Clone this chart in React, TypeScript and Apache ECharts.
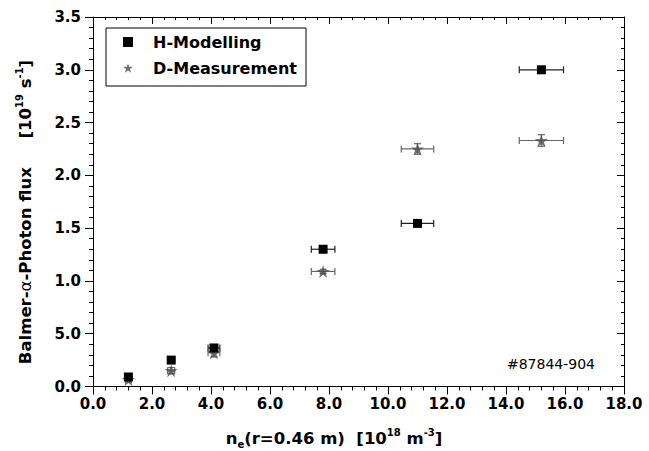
import React, { useEffect, useRef } from "react";
import * as echarts from "echarts";

// ---- data ----
const xValues = [1.2, 2.65, 4.1, 7.8, 11.0, 15.2];
const xErrors = [0.1, 0.12, 0.2, 0.4, 0.55, 0.75];
const hModelling = [0.09, 0.25, 0.365, 1.3, 1.545, 3.0];
const dMeasurement = [0.065, 0.15, 0.32, 1.09, 2.25, 2.33];
const dErrors = [0.02, 0.03, 0.04, 0.02, 0.05, 0.055];
const xTickLabels = ["0.0", "2.0", "4.0", "6.0", "8.0", "10.0", "12.0", "14.0", "16.0", "18.0"];
const yTickLabels = ["0.0", "5.0", "1.0", "1.5", "2.0", "2.5", "3.0", "3.5"];
const seriesNames = ["H-Modelling", "D-Measurement"];
const shotLabel = "#87844-904";

const FONT = "DejaVu Sans";
const STAR =
  "path://M50,0 L61.2,34.5 L97.6,34.5 L68.2,55.9 L79.4,90.5 L50,69.1 L20.6,90.5 L31.8,55.9 L2.4,34.5 L38.8,34.5 Z";

function errRender(color: string) {
  return (params: any, api: any) => {
    const x = api.value(0);
    const y = api.value(1);
    const xe = api.value(2);
    const ye = api.value(3);
    const c = api.coord([x, y]);
    const l = api.coord([x - xe, y]);
    const r = api.coord([x + xe, y]);
    const style = { stroke: color, lineWidth: 1.2 };
    const cap = 3.5;
    const children: any[] = [
      { type: "line", shape: { x1: l[0], y1: c[1], x2: r[0], y2: c[1] }, style },
      { type: "line", shape: { x1: l[0], y1: c[1] - cap, x2: l[0], y2: c[1] + cap }, style },
      { type: "line", shape: { x1: r[0], y1: c[1] - cap, x2: r[0], y2: c[1] + cap }, style },
    ];
    if (ye > 0) {
      const t = api.coord([x, y + ye]);
      const b = api.coord([x, y - ye]);
      children.push(
        { type: "line", shape: { x1: c[0], y1: t[1], x2: c[0], y2: b[1] }, style },
        { type: "line", shape: { x1: c[0] - cap, y1: t[1], x2: c[0] + cap, y2: t[1] }, style },
        { type: "line", shape: { x1: c[0] - cap, y1: b[1], x2: c[0] + cap, y2: b[1] }, style }
      );
    }
    return { type: "group", children };
  };
}

export default function App() {
  const ref = useRef<HTMLDivElement>(null);
  useEffect(() => {
    if (!ref.current) return;
    const chart = echarts.init(ref.current, null, { renderer: "svg" });
    const axisCommon = {
      type: "value" as const,
      splitLine: { show: false },
      axisLine: { show: true, onZero: false, lineStyle: { color: "#000", width: 1 } },
    };
    const labelStyle = { fontFamily: FONT, fontWeight: "bold" as const, fontSize: 15, color: "#000" };
    const rich = (size: number) => ({
      b: { fontFamily: FONT, fontWeight: "bold", fontSize: size, color: "#000", lineHeight: 22 },
      a: { fontFamily: FONT, fontWeight: "normal", fontSize: size, color: "#000", lineHeight: 22 },
      sup: { fontFamily: FONT, fontWeight: "bold", fontSize: 10, color: "#000", lineHeight: 12, verticalAlign: "top" },
      sub: { fontFamily: FONT, fontWeight: "bold", fontSize: 10, color: "#000", lineHeight: 12, verticalAlign: "bottom" },
    });
    chart.setOption({
      animation: false,
      backgroundColor: "#fff",
      grid: { left: 93, top: 17, right: 25, bottom: 64.5, containLabel: false },
      xAxis: [
        {
          ...axisCommon,
          position: "bottom",
          min: 0,
          max: 18,
          interval: 2,
          axisTick: { show: true, length: 8, lineStyle: { color: "#000" } },
          minorTick: { show: true, splitNumber: 5, length: 4, lineStyle: { color: "#000" } },
          axisLabel: {
            ...labelStyle,
            margin: 10,
            formatter: (v: number) => xTickLabels[Math.round(v / 2)] ?? "",
          },
        },
        {
          ...axisCommon,
          position: "top",
          min: 0,
          max: 18,
          interval: 2,
          axisTick: { show: true, inside: true, length: 7, lineStyle: { color: "#000" } },
          minorTick: { show: true, splitNumber: 5, length: 3, lineStyle: { color: "#000" } },
          axisLabel: { show: false },
        },
      ],
      yAxis: [
        {
          ...axisCommon,
          position: "left",
          min: 0,
          max: 3.5,
          interval: 0.5,
          axisTick: { show: true, length: 8, lineStyle: { color: "#000" } },
          minorTick: { show: true, splitNumber: 5, length: 4, lineStyle: { color: "#000" } },
          axisLabel: {
            ...labelStyle,
            margin: 12,
            formatter: (v: number) => yTickLabels[Math.round(v / 0.5)] ?? "",
          },
        },
        {
          ...axisCommon,
          position: "right",
          min: 0,
          max: 3.5,
          interval: 0.5,
          axisTick: { show: true, inside: true, length: 7, lineStyle: { color: "#000" } },
          minorTick: { show: true, splitNumber: 5, length: 3, lineStyle: { color: "#000" } },
          axisLabel: { show: false },
        },
      ],
      legend: {
        orient: "vertical",
        left: 106,
        top: 28,
        padding: [4, 4, 8, 17],
        itemWidth: 10,
        itemHeight: 10,
        itemGap: 6,
        selectedMode: false,
        textStyle: {
          fontFamily: FONT,
          fontWeight: "bold",
          fontSize: 16,
          color: "#000",
          lineHeight: 20,
          padding: [0, 0, 0, 15],
        },
        data: [
          { name: seriesNames[0], icon: "rect" },
          { name: seriesNames[1], icon: STAR },
        ],
      },
      graphic: [
        {
          type: "rect",
          shape: { x: 106, y: 28, width: 200, height: 58 },
          style: { fill: "none", stroke: "#000", lineWidth: 1 },
          z: 10,
        },
        {
          type: "text",
          x: 595,
          y: 364,
          style: {
            text: shotLabel,
            fontFamily: FONT,
            fontSize: 14,
            fill: "#000",
            align: "right",
            verticalAlign: "middle",
          },
        },
        {
          type: "text",
          x: 334,
          y: 438,
          style: {
            text: "{b|n}{sub|e}{b|(r=0.46 m)  [10}{sup|18}{b| m}{sup|-3}{b|]}",
            rich: rich(16.5),
            align: "center",
            verticalAlign: "middle",
          },
        },
        {
          type: "text",
          x: 25,
          y: 212,
          rotation: Math.PI / 2,
          style: {
            text: "{b|Balmer-}{a|α}{b|-Photon flux     [10}{sup|19}{b| s}{sup|-1}{b|]}",
            rich: rich(16.5),
            align: "center",
            verticalAlign: "middle",
          },
        },
      ],
      series: [
        {
          name: "hErr",
          type: "custom",
          renderItem: errRender("#222"),
          encode: { x: 0, y: 1 },
          data: xValues.map((x, i) => [x, hModelling[i], xErrors[i], 0]),
          z: 2,
        },
        {
          name: "dErr",
          type: "custom",
          renderItem: errRender("#666"),
          encode: { x: 0, y: 1 },
          data: xValues.map((x, i) => [x, dMeasurement[i], xErrors[i], dErrors[i]]),
          z: 2,
        },
        {
          name: seriesNames[1],
          type: "scatter",
          symbol: STAR,
          symbolSize: 13,
          itemStyle: { color: "#4d4d4d" },
          data: xValues.map((x, i) => [x, dMeasurement[i]]),
          z: 3,
        },
        {
          name: seriesNames[0],
          type: "scatter",
          symbol: "rect",
          symbolSize: 9,
          itemStyle: { color: "#000", opacity: 1 },
          data: xValues.map((x, i) => [x, hModelling[i]]),
          z: 4,
        },
      ],
    });
    return () => chart.dispose();
  }, []);
  return (
    <div
      ref={ref}
      style={{ position: "fixed", left: 0, top: 0, width: 649, height: 451, background: "#fff" }}
    />
  );
}
